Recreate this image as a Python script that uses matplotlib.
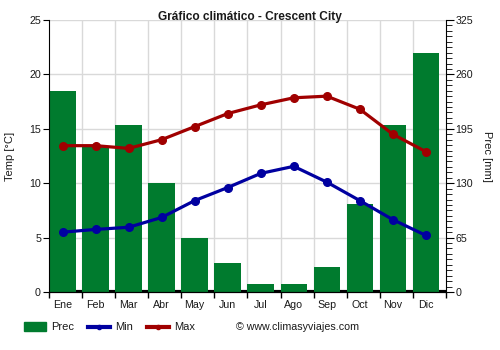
import numpy as np
import matplotlib
matplotlib.use('Agg')
import matplotlib.pyplot as plt
from matplotlib.ticker import MultipleLocator
from matplotlib.lines import Line2D
from matplotlib.patches import Rectangle

plt.rc('font', family='Liberation Sans')

### ---------- data -------------
months = ['Ene', 'Feb', 'Mar', 'Abr', 'May', 'Jun', 'Jul', 'Ago', 'Sep', 'Oct', 'Nov', 'Dic']
prec = [240, 175, 200, 130, 65, 35, 10, 10, 30, 105, 200, 286]
tmin = [5.5, 5.75, 5.95, 6.85, 8.4, 9.6, 10.9, 11.55, 10.1, 8.4, 6.65, 5.2]
tmax = [13.45, 13.45, 13.2, 14.0, 15.2, 16.4, 17.2, 17.85, 18.0, 16.8, 14.5, 12.9]

green = '#007b2e'
blue = '#0000a0'
red = '#a00000'
txt = '#1a1a1a'

W, H = 500.0, 350.0
def fx(px):
	return px / W
def fy(py):
	return 1 - py / H

### ---------- plot -------------
fig = plt.figure(figsize=(5, 3.5), dpi=100)
ax = fig.add_axes([fx(49.3), fy(292), fx(445.7) - fx(49.3), fy(20) - fy(292)])
ax2 = ax.twinx()

x = np.arange(len(months))
# bars sit at the left of each slot, boundaries at k-0.4
ax.set_xlim(-0.4, len(months) - 0.4)
ax.set_ylim(0, 25)
ax2.set_ylim(0, 325)

ax2.set_zorder(1)
ax.set_zorder(2)
ax.patch.set_visible(False)

ax2.axhline(0, color='black', lw=3, zorder=1)
ax2.bar(x, prec, width=0.8, color=green, zorder=2)

ax.plot(x, tmin, '-o', color=blue, lw=2.3, markersize=5.5, zorder=5)
ax.plot(x, tmax, '-o', color=red, lw=2.3, markersize=5.5, zorder=5)

# grid
ax.set_yticks(np.arange(0, 26, 5))
ax.set_xticks(x)
ax.set_xticklabels(months, fontsize=7.7, color=txt)
ax.set_xticks(np.arange(-0.4, len(months), 1), minor=True)
for yv in np.arange(5, 26, 5):
	ax2.axhline(yv * 13, color='#d9d9d9', lw=1, zorder=0)
for xv in np.arange(0.6, len(months) - 0.5, 1):
	ax2.axvline(xv, color='#d9d9d9', lw=1, zorder=0)

ax.tick_params(axis='x', which='major', length=0, pad=6)
ax.tick_params(axis='x', which='minor', length=4, width=1, color='black')
ax.tick_params(axis='y', which='major', length=4, labelsize=7.7, labelcolor=txt, pad=2)

ax2.set_yticks(np.arange(0, 326, 65))
ax2.yaxis.set_minor_locator(MultipleLocator(6.5))
ax2.tick_params(axis='y', which='major', length=6, labelsize=7.7, labelcolor=txt, pad=1)
ax2.tick_params(axis='y', which='minor', length=4)

for a in (ax, ax2):
	a.spines['top'].set_visible(False)
	for s in ('left', 'right', 'bottom'):
		a.spines[s].set_color('black')
ax2.spines['left'].set_visible(False)
ax.spines['right'].set_visible(False)

fig.text(fx(10), fy(156), 'Temp [°C]', rotation=90, ha='center', va='center', fontsize=8, color=txt)
fig.text(fx(487), fy(156), 'Prec [mm]', rotation=270, ha='center', va='center', fontsize=8, color=txt)

fig.text(0.5, fy(17), 'Gráfico climático - Crescent City', ha='center', va='center',
	fontsize=8.6, fontweight='bold', color=txt)

# legend, drawn by hand
ly = fy(326.5)
fig.patches.append(Rectangle((fx(24), fy(331)), fx(22), fy(322) - fy(331), color=green,
	transform=fig.transFigure, figure=fig))
for x0, c in ((88, blue), (147, red)):
	fig.lines.append(Line2D([fx(x0), fx(x0 + 22)], [ly, ly], color=c, lw=3,
		transform=fig.transFigure, figure=fig))
	fig.lines.append(Line2D([fx(x0 + 11)], [ly], color=c, marker='o', markersize=3,
		transform=fig.transFigure, figure=fig))
for x0, s in ((51, 'Prec'), (115, 'Min'), (174, 'Max')):
	fig.text(fx(x0), ly, s, ha='left', va='center', fontsize=8, color=txt)
fig.text(fx(236), ly, '© www.climasyviajes.com', ha='left', va='center', fontsize=7.7, color=txt)

plt.savefig('out.png', dpi=100)
plt.close()
